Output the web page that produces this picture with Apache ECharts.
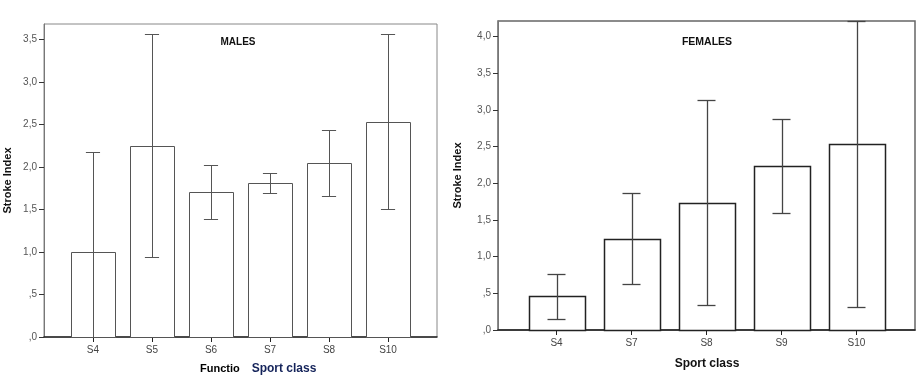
<!DOCTYPE html>
<html>
<head>
<meta charset="utf-8">
<script src="https://cdn.jsdelivr.net/npm/echarts@6/dist/echarts.min.js"></script>
<style>html,body{margin:0;padding:0;background:#fff}#c{width:923px;height:384px}</style>
</head>
<body>
<div id="c"></div>
<script>
// ---- Data ----
const maleCategories = ['S4', 'S5', 'S6', 'S7', 'S8', 'S10'];
const maleMeans = [1.00, 2.25, 1.70, 1.81, 2.04, 2.53];
const maleLower = [0.00, 0.94, 1.39, 1.69, 1.66, 1.50];
const maleUpper = [2.18, 3.56, 2.02, 1.93, 2.43, 3.56];

const femaleCategories = ['S4', 'S7', 'S8', 'S9', 'S10'];
const femaleMeans = [0.46, 1.24, 1.73, 2.23, 2.53];
const femaleLower = [0.15, 0.62, 0.34, 1.59, 0.31];
const femaleUpper = [0.76, 1.86, 3.13, 2.87, 4.75];

const maleYTicks = [0, 0.5, 1, 1.5, 2, 2.5, 3, 3.5];
const femaleYTicks = [0, 0.5, 1, 1.5, 2, 2.5, 3, 3.5, 4];

const maleTitle = 'MALES';
const femaleTitle = 'FEMALES';
const yName = 'Stroke Index';
const xName = 'Sport class';
const clippedName = 'Functio';

// ---- Helpers ----
const BW = 0.746;   // bar width in category units
const CAP = 0.24;   // cap width in category units
const fmt = v => v.toFixed(1).replace('.', ',').replace(/^0/, '');
const FONT = '"Liberation Sans", Arial, sans-serif';

function barRender(stroke, lw) {
  return function (params, api) {
    const x = api.value(0), y = api.value(1);
    const a = api.coord([x - BW / 2, 0]);
    const b = api.coord([x + BW / 2, y]);
    return {
      type: 'rect',
      shape: { x: Math.round(a[0]) + 0.5, y: Math.round(b[1]) + 0.5, width: Math.round(b[0] - a[0]), height: Math.round(a[1] - b[1]) },
      style: { fill: '#fff', stroke: stroke, lineWidth: lw }
    };
  };
}
function errRender(stroke, lw, ymax) {
  return function (params, api) {
    const x = api.value(0);
    const lo = Math.max(api.value(1), 0), hi = Math.min(api.value(2), ymax);
    const pl = api.coord([x, lo]), ph = api.coord([x, hi]);
    const cl = api.coord([x - CAP / 2, lo]), cr = api.coord([x + CAP / 2, lo]);
    const xx = Math.round(pl[0]) + 0.5;
    const yl = Math.round(pl[1]) + 0.5, yh = Math.round(ph[1]) + 0.5;
    const s = { stroke: stroke, lineWidth: lw };
    return {
      type: 'group',
      children: [
        { type: 'line', shape: { x1: xx, y1: yl, x2: xx, y2: yh }, style: s },
        { type: 'line', shape: { x1: cl[0], y1: yh, x2: cr[0], y2: yh }, style: s },
        { type: 'line', shape: { x1: cl[0], y1: yl, x2: cr[0], y2: yl }, style: s }
      ]
    };
  };
}

const maleYMax = 3.68, femaleYMax = 4.21;
const maleXIdx = maleCategories.map((_, i) => i);
const femaleXIdx = femaleCategories.map((_, i) => i);

function xAxisCfg(gridIndex, min, max, cats) {
  const idx = cats.map((_, i) => i);
  return {
    type: 'value', gridIndex, min, max,
    splitLine: { show: false },
    axisLine: { show: true, onZero: false, lineStyle: { color: '#222', width: 1.5 } },
    axisTick: { show: true, length: 5, customValues: idx, lineStyle: { color: '#222' } },
    axisLabel: { customValues: idx, formatter: v => cats[Math.round(v)], color: '#444', fontSize: 10, fontFamily: FONT, margin: 8 }
  };
}
function yAxisCfg(gridIndex, max, ticks, gap) {
  return {
    type: 'value', gridIndex, min: 0, max,
    name: yName, nameLocation: 'middle', nameGap: gap,
    nameTextStyle: { fontWeight: 'bold', fontSize: 11, color: '#111', fontFamily: FONT },
    splitLine: { show: false },
    axisLine: { show: true, onZero: false, lineStyle: { color: '#777', width: 1 } },
    axisTick: { show: true, length: 5, customValues: ticks, lineStyle: { color: '#333' } },
    axisLabel: { customValues: ticks, formatter: fmt, color: '#555', fontSize: 10, fontFamily: FONT, margin: 7 }
  };
}

const chart = echarts.init(document.getElementById('c'), null, { renderer: 'canvas' });
chart.setOption({
  animation: false,
  backgroundColor: '#fff',
  grid: [
    { left: 44, right: 486, top: 24, bottom: 47, show: true, borderColor: '#888', borderWidth: 1, backgroundColor: 'transparent' },
    { left: 498, right: 8, top: 21, bottom: 54, show: true, borderColor: '#666', borderWidth: 1.5, backgroundColor: 'transparent' }
  ],
  xAxis: [
    xAxisCfg(0, -0.83, 5.83, maleCategories),
    xAxisCfg(1, -0.78, 4.78, femaleCategories)
  ],
  yAxis: [
    yAxisCfg(0, maleYMax, maleYTicks, 31),
    yAxisCfg(1, femaleYMax, femaleYTicks, 35)
  ],
  series: [
    { type: 'custom', xAxisIndex: 0, yAxisIndex: 0, renderItem: barRender('#555', 1),
      data: maleXIdx.map(i => [i, maleMeans[i]]) },
    { type: 'custom', xAxisIndex: 0, yAxisIndex: 0, renderItem: errRender('#555', 1, maleYMax), z: 3,
      data: maleXIdx.map(i => [i, maleLower[i], maleUpper[i]]) },
    { type: 'custom', xAxisIndex: 1, yAxisIndex: 1, renderItem: barRender('#222', 1.5),
      data: femaleXIdx.map(i => [i, femaleMeans[i]]) },
    { type: 'custom', xAxisIndex: 1, yAxisIndex: 1, renderItem: errRender('#444', 1.3, femaleYMax), z: 3,
      data: femaleXIdx.map(i => [i, femaleLower[i], femaleUpper[i]]) }
  ],
  graphic: [
    { type: 'text', style: { x: 238, y: 42, text: maleTitle, font: 'bold 10px ' + FONT, fill: '#111', textAlign: 'center', textVerticalAlign: 'middle' } },
    { type: 'text', style: { x: 707, y: 42, text: femaleTitle, font: 'bold 10.5px ' + FONT, fill: '#111', textAlign: 'center', textVerticalAlign: 'middle' } },
    { type: 'text', style: { x: 200, y: 369, text: clippedName, font: 'bold 11px ' + FONT, fill: '#000', textAlign: 'left', textVerticalAlign: 'middle' } },
    { type: 'text', style: { x: 284, y: 369, text: xName, font: 'bold 12px ' + FONT, fill: '#14235a', textAlign: 'center', textVerticalAlign: 'middle' } },
    { type: 'text', style: { x: 707, y: 364, text: xName, font: 'bold 12px ' + FONT, fill: '#111', textAlign: 'center', textVerticalAlign: 'middle' } }
  ]
});
</script>
</body>
</html>
